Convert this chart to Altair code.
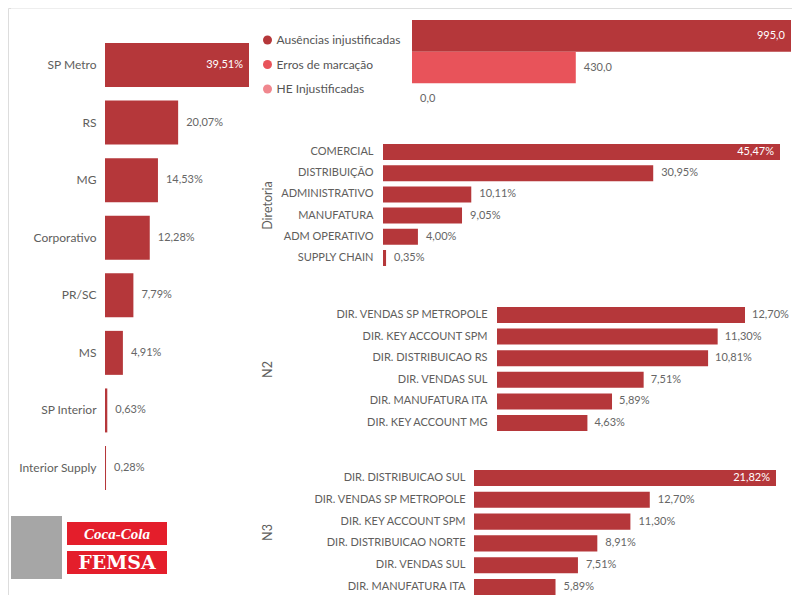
import altair as alt
import pandas as pd

# ---------------- data ----------------
region_names = ["SP Metro", "RS", "MG", "Corporativo", "PR/SC", "MS", "SP Interior", "Interior Supply"]
region_pct = [39.51, 20.07, 14.53, 12.28, 7.79, 4.91, 0.63, 0.28]

type_names = ["Ausências injustificadas", "Erros de marcação", "HE Injustificadas"]
type_vals = [995.0, 430.0, 0.0]
type_colors = ["#B5373A", "#E8535A", "#F0878E"]

diretoria_names = ["COMERCIAL", "DISTRIBUIÇÃO", "ADMINISTRATIVO", "MANUFATURA", "ADM OPERATIVO", "SUPPLY CHAIN"]
diretoria_pct = [45.47, 30.95, 10.11, 9.05, 4.00, 0.35]

n2_names = ["DIR. VENDAS SP METROPOLE", "DIR. KEY ACCOUNT SPM", "DIR. DISTRIBUICAO RS",
            "DIR. VENDAS SUL", "DIR. MANUFATURA ITA", "DIR. KEY ACCOUNT MG"]
n2_pct = [12.70, 11.30, 10.81, 7.51, 5.89, 4.63]

n3_names = ["DIR. DISTRIBUICAO SUL", "DIR. VENDAS SP METROPOLE", "DIR. KEY ACCOUNT SPM",
            "DIR. DISTRIBUICAO NORTE", "DIR. VENDAS SUL", "DIR. MANUFATURA ITA"]
n3_pct = [21.82, 12.70, 11.30, 8.91, 7.51, 5.89]

# ---------------- style ----------------
FONT = "Lato"
BAR = "#B5373A"
TXT = "#605E5C"
OX, OY = 8, 8  # page margin -> chart origin


def pct_label(v):
    return f"{v:.2f}".replace(".", ",") + "%"


def num_label(v):
    return f"{v:.1f}".replace(".", ",")


def bar_panel(names, values, labels, x0, x1, y0, y1, pad, label_pad=10, label_size=11,
              title=None, title_y=None, inside=True, colors=None, legend=None, show_axis=True,
              out_dx=8):
    vmax = max(values)
    df = pd.DataFrame({"cat": names, "val": values, "lab": labels})
    df["inside"] = [bool(inside and v == vmax) for v in values]
    xs = alt.Scale(domain=[0, vmax], range=[x0 - OX, x1 - OX], nice=False, zero=True)
    ys = alt.Scale(domain=names, range=[y0 - OY, y1 - OY], paddingInner=pad, paddingOuter=pad / 2)
    if show_axis:
        ax_kw = dict(orient="left", offset=-(x0 - OX), domain=False, ticks=False, tickSize=0,
                     labelPadding=label_pad, labelFont=FONT, labelFontSize=label_size,
                     labelColor=TXT, grid=False, labelLimit=250)
        if title:
            ax_kw.update(title=title, titleX=267 - x0, titleY=title_y - OY, titleAngle=270,
                         titleAlign="center", titleBaseline="middle", titleFont=FONT,
                         titleFontSize=12.5, titleFontWeight="normal", titleColor=TXT)
        else:
            ax_kw.update(title=None)
        axis = alt.Axis(**ax_kw)
    else:
        axis = None
    x = alt.X("val:Q", scale=xs, axis=None)
    y = alt.Y("cat:N", scale=ys, axis=axis)
    base = alt.Chart(df)
    if colors is not None:
        bars = base.mark_bar().encode(
            x=x, y=y,
            color=alt.Color("cat:N", scale=alt.Scale(domain=names, range=colors), legend=legend))
    else:
        bars = base.mark_bar(color=BAR).encode(x=x, y=y)
    out = base.transform_filter("!datum.inside").mark_text(
        align="left", baseline="middle", dx=out_dx, font=FONT, fontSize=11, color="#666666"
    ).encode(x=x, y=y, text="lab:N")
    ins = base.transform_filter("datum.inside").mark_text(
        align="right", baseline="middle", dx=-6, font=FONT, fontSize=11, color="white"
    ).encode(x=x, y=y, text="lab:N")
    return alt.layer(bars, out, ins)


left = bar_panel(region_names, region_pct, [pct_label(v) for v in region_pct],
                 105, 249, 36.2, 496.8, 0.236, label_pad=9, label_size=12)

type_legend = alt.Legend(orient="none", legendX=253.5, legendY=26, title=None, symbolType="circle",
                         symbolSize=81, symbolStrokeWidth=0, symbolOpacity=1, labelFont=FONT,
                         labelFontSize=12, labelColor="#555555", labelOffset=3, rowPadding=12.5,
                         padding=0, labelLimit=300)
top = bar_panel(type_names, type_vals, [num_label(v) for v in type_vals],
                412, 791, 20, 115, 0.0, colors=type_colors, legend=type_legend, show_axis=False)

dire = bar_panel(diretoria_names, diretoria_pct, [pct_label(v) for v in diretoria_pct],
                 383, 780, 141.4, 268.6, 0.245, label_pad=10, title="Diretoria", title_y=205)

n2 = bar_panel(n2_names, n2_pct, [pct_label(v) for v in n2_pct],
               497, 745, 304.2, 433.8, 0.26, label_pad=10, title="N2", title_y=369, inside=False,
               out_dx=7)

n3 = bar_panel(n3_names, n3_pct, [pct_label(v) for v in n3_pct],
               474, 776, 467.1, 597.9, 0.26, label_pad=9, title="N3", title_y=532)

# ---------------- decorations (separator + logo) ----------------
one = pd.DataFrame({"k": [0]})
sep = alt.Chart(one).mark_rule(color="#EEEEEE", strokeWidth=2).encode(
    x=alt.value(3), x2=alt.value(282), y=alt.value(0))
logo_gray = alt.Chart(one).mark_rect(color="#A6A6A6").encode(
    x=alt.value(3), x2=alt.value(54), y=alt.value(508), y2=alt.value(571))
logo_red1 = alt.Chart(one).mark_rect(color="#E41E2B").encode(
    x=alt.value(59), x2=alt.value(159), y=alt.value(514), y2=alt.value(537))
logo_red2 = alt.Chart(one).mark_rect(color="#E41E2B").encode(
    x=alt.value(59), x2=alt.value(159), y=alt.value(543), y2=alt.value(566))
logo_t1 = alt.Chart(one).mark_text(text="Coca-Cola", font="Liberation Serif", fontStyle="italic",
                                   fontWeight="bold", fontSize=15, color="white").encode(
    x=alt.value(109), y=alt.value(526))
logo_t2 = alt.Chart(one).mark_text(text="FEMSA", font="DejaVu Serif", fontWeight="bold",
                                   fontSize=19, color="white").encode(
    x=alt.value(109), y=alt.value(555))

chart = alt.layer(
    sep, left, top, dire, n2, n3, logo_gray, logo_red1, logo_red2, logo_t1, logo_t2
).resolve_scale(
    x="independent", y="independent", color="independent"
).resolve_axis(
    x="independent", y="independent"
).resolve_legend(
    color="independent"
).properties(
    width=784, height=587,
    autosize=alt.AutoSizeParams(type="none"),
    padding={"left": 0, "top": 0, "right": 0, "bottom": 0},
).configure_view(stroke=None).configure(background="white")

chart.save("out.html", embed_options={"renderer": "svg", "actions": False})
